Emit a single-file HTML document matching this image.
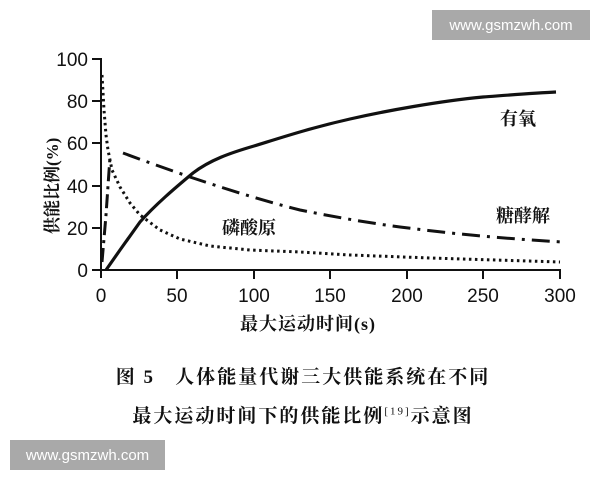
<!DOCTYPE html>
<html><head><meta charset="utf-8"><style>
html,body{margin:0;padding:0;background:#fff;}
body{width:600px;height:480px;position:relative;overflow:hidden;}
.wm{position:absolute;background:#a9a9a9;color:#fff;font-family:"Liberation Sans",sans-serif;font-size:15px;display:flex;align-items:center;justify-content:center;}
.cap{position:absolute;left:0;width:606px;text-align:center;font-family:"Liberation Serif","Noto Serif CJK SC",serif;font-size:19px;color:#111;letter-spacing:2px;font-weight:bold;}
</style></head><body>
<svg width="600" height="480" style="position:absolute;left:0;top:0" font-family="Liberation Sans, sans-serif">
<g stroke="#111" stroke-width="2" fill="none">
<line x1="101" y1="58" x2="101" y2="278"/>
<line x1="101" y1="270" x2="561" y2="270"/>
<line x1="92" y1="59" x2="101" y2="59"/><line x1="92" y1="101" x2="101" y2="101"/><line x1="92" y1="143" x2="101" y2="143"/><line x1="92" y1="186" x2="101" y2="186"/><line x1="92" y1="228" x2="101" y2="228"/><line x1="92" y1="270" x2="101" y2="270"/>
<line x1="177" y1="270" x2="177" y2="279"/><line x1="254" y1="270" x2="254" y2="279"/><line x1="330" y1="270" x2="330" y2="279"/><line x1="407" y1="270" x2="407" y2="279"/><line x1="483" y1="270" x2="483" y2="279"/><line x1="560" y1="270" x2="560" y2="279"/>
</g>
<g font-size="19" fill="#111" text-anchor="end">
<text x="88" y="66">100</text><text x="88" y="108">80</text><text x="88" y="150">60</text><text x="88" y="193">40</text><text x="88" y="235">20</text><text x="88" y="277">0</text>
</g>
<g font-size="19" fill="#111" text-anchor="middle">
<text x="101" y="302">0</text><text x="177" y="302">50</text><text x="254" y="302">100</text><text x="330" y="302">150</text><text x="407" y="302">200</text><text x="483" y="302">250</text><text x="560" y="302">300</text>
</g>
<path d="M106,270 L120,250 L140,222 C155,205 175,188 193,173 C210,160 230,153 254,146 C280,138 310,128 350,119 C385,111 440,101 483,97 C510,95 535,93 556,92" stroke="#111" stroke-width="3.2" fill="none" stroke-linejoin="round"/>
<path d="M102,262 L106,215 L110,157" stroke="#111" stroke-width="3" fill="none" stroke-dasharray="14,5,3,5"/>
<path d="M123,153 C150,163 170,170 190,177 C220,187 260,200 300,210 C340,218 370,223 400,227 C440,232 480,237 562,242" stroke="#111" stroke-width="3" fill="none" stroke-dasharray="18,7,3,7"/>
<path d="M102,75 L104,110 L106,135 L108,150 L112,170 L120,187 L130,203 L140,215 L160,230 L180,239 L210,246 L250,250 L300,252 L350,255 L430,258 L560,262" stroke="#111" stroke-width="3" fill="none" stroke-dasharray="2.5,3.5"/>
<g font-family="Liberation Serif, Noto Serif CJK SC, serif" font-size="18" font-weight="bold" fill="#111">
<text x="500" y="125">有氧</text>
<text x="496" y="222">糖酵解</text>
<text x="222" y="234">磷酸原</text>
<text x="240" y="330" letter-spacing="1">最大运动时间(s)</text>
<text transform="translate(58,234) rotate(-90)" font-size="17">供能比例(%)</text>
</g>
</svg>
<div class="wm" style="left:432px;top:10px;width:158px;height:30px;">www.gsmzwh.com</div>
<div class="wm" style="left:10px;top:440px;width:155px;height:30px;">www.gsmzwh.com</div>
<div class="cap" style="top:362px;">图 5&nbsp;&nbsp;&nbsp;人体能量代谢三大供能系统在不同</div>
<div class="cap" style="top:401px;">最大运动时间下的供能比例<sup style="font-size:11px;font-weight:normal">[19]</sup>示意图</div>
</body></html>
